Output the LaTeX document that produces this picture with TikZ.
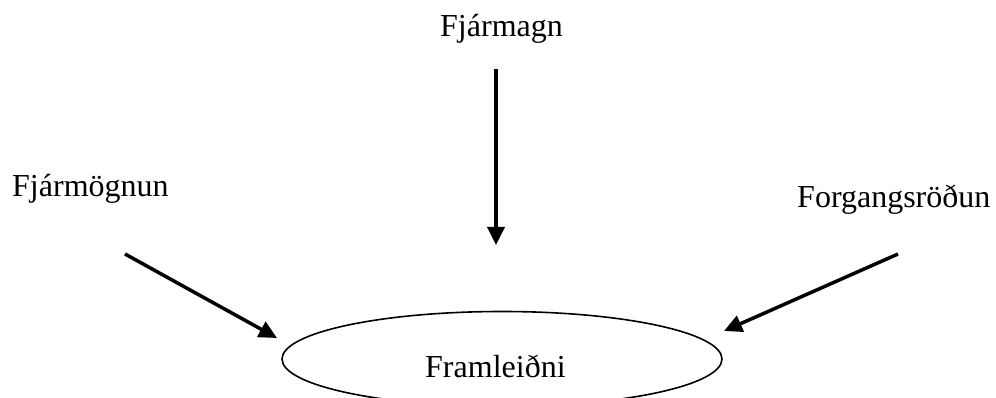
\documentclass[tikz,border=0pt]{standalone}
\usepackage{fontspec}
\setmainfont{Liberation Serif}
\usetikzlibrary{arrows.meta,shapes.geometric}
\begin{document}
\begin{tikzpicture}[x=1pt,y=-1pt,
  lbl/.style={anchor=base west,inner sep=0pt,font=\fontsize{32}{37}\selectfont},
  arr/.style={line width=3.5pt,-{Triangle[length=18pt,width=17pt]}},
  oval/.style={ellipse,draw,line width=1.6pt,minimum width=440pt,minimum height=95pt,inner sep=0pt}]
\useasboundingbox (0,0) rectangle (996,398);
\node[lbl] (fjarmagn) at (440,37) {Fjármagn};
\node[lbl] (fjarmognun) at (12,197) {Fjármögnun};
\node[lbl] (forgangs) at (797,208) {Forgangsröðun};
\node[oval] (prod) at (502,359) {};
\node[lbl] (prodlbl) at (425,377) {Framleiðni};
\coordinate (vs) at (496,69);
\coordinate (ve) at (496,245);
\coordinate (ls) at (125,254);
\coordinate (le) at (277,338);
\coordinate (rs) at (898,254);
\coordinate (re) at (724,331);
\draw[arr] (vs) -- (ve);
\draw[arr] (ls) -- (le);
\draw[arr] (rs) -- (re);
\end{tikzpicture}
\end{document}
